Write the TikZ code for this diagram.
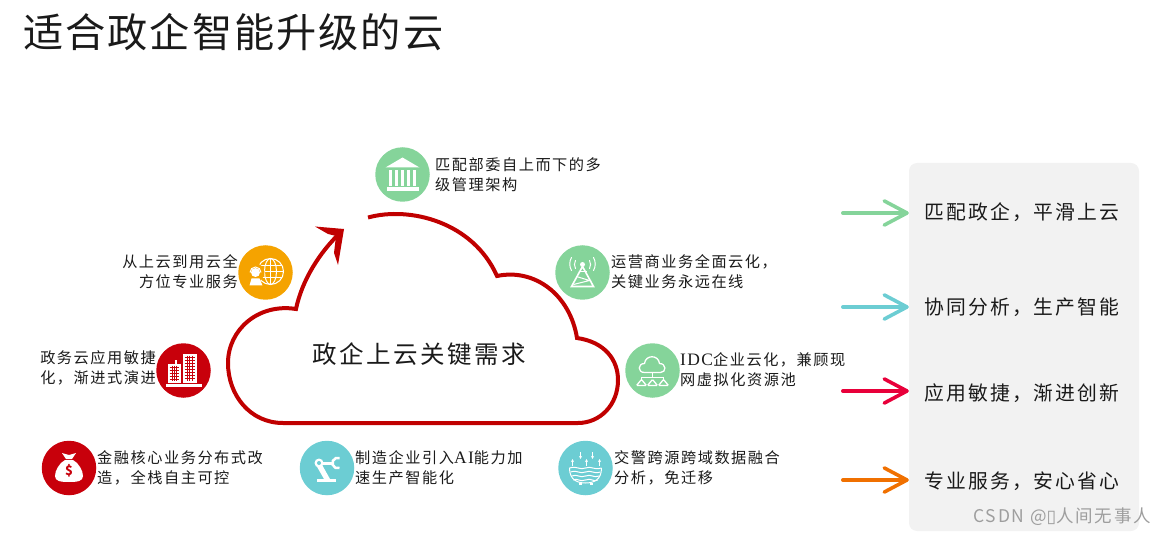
\documentclass[tikz,border=0pt]{standalone}
\usepackage{fontspec}
\usepackage{xcolor}
\usetikzlibrary{arrows.meta, calc}
\setmainfont{Noto Sans CJK SC}[LetterSpace=10]
\newfontfamily\titlefont{Noto Sans CJK SC}[LetterSpace=5]
\newfontfamily\latinfont{Liberation Serif}[Scale=1.15, LetterSpace=8]
\newfontfamily\boxfont{DejaVu Sans}
\definecolor{cloudred}{RGB}{192, 0, 0}
\definecolor{iconred}{RGB}{200, 0, 11}
\definecolor{softgreen}{RGB}{133, 212, 154}
\definecolor{softteal}{RGB}{108, 205, 211}
\definecolor{sunorange}{RGB}{245, 163, 0}
\definecolor{panelgray}{RGB}{242, 242, 242}
\definecolor{arrowred}{RGB}{232, 0, 58}
\definecolor{arroworange}{RGB}{240, 112, 0}
\definecolor{inkblack}{RGB}{26, 26, 26}
\tikzstyle{icon} = [circle, minimum size=54.5pt, inner sep=0pt]
\tikzstyle{desc} = [font=\fontsize{15.2}{20}\selectfont, text=inkblack, align=left, inner sep=0pt, anchor=west]
\tikzstyle{descright} = [desc, align=right, anchor=east]
\tikzstyle{goal} = [font=\fontsize{19.8}{24}\selectfont, text=inkblack, inner sep=0pt]
\tikzstyle{goalarrow} = [-{Straight Barb[length=8mm, width=8.5mm, line width=3.6pt, round]}, line width=4pt, line cap=round]
\tikzstyle{glyph} = [white, line width=1pt]

\begin{document}
\begin{tikzpicture}[x=1pt, y=-1pt]
    \useasboundingbox (0,0) rectangle (1167,537);

    % Title
    \node[font=\titlefont\fontsize{40.2}{44}\selectfont, text=inkblack, inner sep=0pt, anchor=west] (title) at (23,32) {适合政企智能升级的云};

    % Right panel
    \node[fill=panelgray, rounded corners=8pt, minimum width=230pt, minimum height=368pt, inner sep=0pt] (panel) at (1024,347) {};
    \node[goal] (goalone) at (1022,212) {匹配政企，平滑上云};
    \node[goal] (goaltwo) at (1022,307) {协同分析，生产智能};
    \node[goal] (goalthree) at (1022,393) {应用敏捷，渐进创新};
    \node[goal] (goalfour) at (1022,481) {专业服务，安心省心};

    \coordinate (startone) at (843,213);
    \coordinate (starttwo) at (843,307);
    \coordinate (startthree) at (843,391);
    \coordinate (startfour) at (843,480);
    \draw[goalarrow, softgreen] (startone) -- (startone -| panel.west);
    \draw[goalarrow, softteal] (starttwo) -- (starttwo -| panel.west);
    \draw[goalarrow, arrowred] (startthree) -- (startthree -| panel.west);
    \draw[goalarrow, arroworange] (startfour) -- (startfour -| panel.west);

    % Cloud
    \draw[cloudred, line width=4pt, miter limit=10] (368,217.5) .. controls (410,206) and (473,222) .. (497,276)
        .. controls (535,268) and (570,295) .. (577,338)
        .. controls (605,342) and (618,360) .. (618,380)
        .. controls (618,405) and (600,423) .. (578,423)
        -- (283,423)
        .. controls (250,423) and (228,395) .. (228,363)
        .. controls (228,330) and (258,303) .. (296,309)
        .. controls (302,280) and (320,252) .. (340,233);
    \fill[cloudred] (315,226.5) -- (344,229) -- (338,265) -- (334,253) -- (336,236) -- (328,234) -- cycle;
    \node[font=\fontsize{24.5}{28}\selectfont, text=inkblack, inner sep=0pt] (need) at (419,354) {政企上云关键需求};

    % Round icons
    \node[icon, fill=softgreen] (bank) at (402.5,174.5) {};
    \node[icon, fill=sunorange] (service) at (265.5,272.5) {};
    \node[icon, fill=iconred] (city) at (183.5,370.5) {};
    \node[icon, fill=softgreen] (tower) at (582.5,272.5) {};
    \node[icon, fill=softgreen] (idc) at (652.5,370.5) {};
    \node[icon, fill=iconred] (money) at (69,468) {};
    \node[icon, fill=softteal] (robot) at (327,468) {};
    \node[icon, fill=softteal] (water) at (585.5,468) {};

    % Descriptions
    \node[desc] (banktext) at (435,175) {匹配部委自上而下的多\\级管理架构};
    \node[descright] (servicetext) at (238,272) {从上云到用云全\\方位专业服务};
    \node[descright] (citytext) at (156,368) {政务云应用敏捷\\化，渐进式演进};
    \node[desc] (towertext) at (611,272) {运营商业务全面云化，\\关键业务永远在线};
    \node[desc] (idctext) at (680,370) {{\latinfont IDC}企业云化，兼顾现\\网虚拟化资源池};
    \node[desc] (moneytext) at (97,468) {金融核心业务分布式改\\造，全栈自主可控};
    \node[desc] (robottext) at (355,468) {制造企业引入{\latinfont AI}能力加\\速生产智能化};
    \node[desc] (watertext) at (614,468) {交警跨源跨域数据融合\\分析，免迁移};

    % Bank glyph
    \begin{scope}[shift={(bank)}]
        \fill[white] (0,-17) -- (-17,-7) -- (17,-7) -- cycle;
        \fill[white] (-16,13) rectangle (16,17);
        \foreach \colx in {-12,-6,0,6,12}
            \fill[white] (\colx-1.8,-4) rectangle (\colx+1.8,12);
    \end{scope}

    % Globe and headset glyph
    \begin{scope}[shift={(service)}]
        \draw[glyph] (5,-1) circle (13);
        \draw[glyph] (5,-1) ellipse (6 and 13);
        \draw[glyph] (5,-14) -- (5,12);
        \draw[glyph] (-8,-1) -- (18,-1);
        \draw[glyph] (-6,-7) -- (16,-7);
        \draw[glyph] (-6,5) -- (16,5);
        \fill[sunorange] (-10,0) circle (9);
        \fill[white] (-10,0) circle (4.5);
        \draw[glyph] (-15.5,0) arc (180:360:5.5);
        \fill[white] (-16,13) -- (-14,6) -- (-6,6) -- (-3,13) -- cycle;
    \end{scope}

    % Buildings glyph
    \begin{scope}[shift={(city)}]
        \fill[white] (-1,-17) rectangle (13,12);
        \fill[white] (-16,-7) rectangle (-3,12);
        \fill[white] (-9,-11) rectangle (-7,-7);
        \fill[white] (-18,13) rectangle (18,16);
        \foreach \gridy in {-13,-10,-7,-4,-1,2,5,8}
            \draw[iconred, line width=.8pt] (1,\gridy) -- (11,\gridy);
        \foreach \gridx in {3.5,6,8.5}
            \draw[iconred, line width=.8pt] (\gridx,-15) -- (\gridx,10);
        \foreach \gridy in {-3,0,3,6,9}
            \draw[iconred, line width=.8pt] (-14,\gridy) -- (-5,\gridy);
        \foreach \gridx in {-11.5,-9.5,-7.5}
            \draw[iconred, line width=.8pt] (\gridx,-5) -- (\gridx,10);
    \end{scope}

    % Tower glyph
    \begin{scope}[shift={(tower)}]
        \fill[white] (0,-8) circle (2.5);
        \draw[glyph, line width=1.6pt] (0,-6) -- (-11,14) -- (11,14) -- cycle;
        \draw[glyph] (-6,4) -- (7,8) -- (-9,12);
        \draw[glyph] (-4,-1) -- (4,-1);
        \draw[glyph, line cap=round] (7,-12) arc (-30:30:8);
        \draw[glyph, line cap=round] (-7,-12) arc (210:150:8);
        \draw[glyph, line cap=round] (11,-15) arc (-30:30:13);
        \draw[glyph, line cap=round] (-11,-15) arc (210:150:13);
    \end{scope}

    % Cloud network glyph
    \begin{scope}[shift={(idc)}]
        \draw[glyph, line width=1.3pt] (-8,2) .. controls (-15,2) and (-15,-7) .. (-8,-7)
            .. controls (-7,-16) and (6,-16) .. (7,-7)
            .. controls (14,-7) and (14,2) .. (8,2) -- cycle;
        \draw[glyph] (0,2) -- (0,7);
        \draw[glyph] (-11,10) -- (-11,7) -- (11,7) -- (11,10);
        \foreach \netx in {-11,0,11}
            \draw[glyph, line width=1.3pt, rounded corners=1pt] (\netx-5,15) -- (\netx,9) -- (\netx+5,15) -- cycle;
    \end{scope}

    % Money bag glyph
    \begin{scope}[shift={(money)}]
        \fill[white] (-7,-15) -- (0,-13) -- (7,-15) -- (3,-9) -- (-3,-9) -- cycle;
        \fill[white] (-4,-8) .. controls (-10,-5) and (-14,3) .. (-14,8)
            .. controls (-14,13) and (-9,14) .. (0,14)
            .. controls (9,14) and (14,13) .. (14,8)
            .. controls (14,3) and (10,-5) .. (4,-8) -- cycle;
        \node[text=iconred, font=\bfseries\fontsize{13}{13}\selectfont, inner sep=0pt] (dollar) at (0,3) {\$};
    \end{scope}

    % Robot arm glyph
    \begin{scope}[shift={(robot)}]
        \fill[white] (-10,11) rectangle (9,14);
        \fill[white] (-11,-3) -- (-6,-5) -- (3,11) -- (-3,11) -- cycle;
        \draw[white, line width=3pt] (-6,-5) -- (6,-5);
        \draw[white, line width=2.5pt] (12.5,0) arc (70:290:5.3);
        \fill[white] (-8,-5) circle (4.5);
        \fill[softteal] (-8,-5) circle (2);
    \end{scope}

    % Water basin glyph
    \begin{scope}[shift={(water)}]
        \draw[glyph] (-16,0) .. controls (-16,12) and (-8,15) .. (0,15) .. controls (8,15) and (16,12) .. (16,0);
        \foreach \wavey in {0,4,8,12}
            \draw[glyph] (-16+\wavey*0.3,\wavey) .. controls (-8,\wavey-2.5) and (-6,\wavey+2.5) .. (0,\wavey) .. controls (6,\wavey-2.5) and (8,\wavey+2.5) .. (16-\wavey*0.3,\wavey);
        \fill[white] (-7,15) rectangle (-4,17);
        \fill[white] (4,15) rectangle (7,17);
        \foreach \upx in {-13,1,14}
            \draw[glyph, -{Stealth[length=3pt, width=3pt]}] (\upx,-2) -- (\upx,-9);
        \foreach \downx in {-5,7}
            \draw[glyph, -{Stealth[length=3pt, width=3pt]}] (\downx,-16) -- (\downx,-9);
    \end{scope}

    % Watermark
    \node[font=\fontsize{17.5}{20}\selectfont, text=black!38, inner sep=0pt, anchor=east] (mark) at (1151,517) {CSDN @{\boxfont ▯}人间无事人};
\end{tikzpicture}
\end{document}
